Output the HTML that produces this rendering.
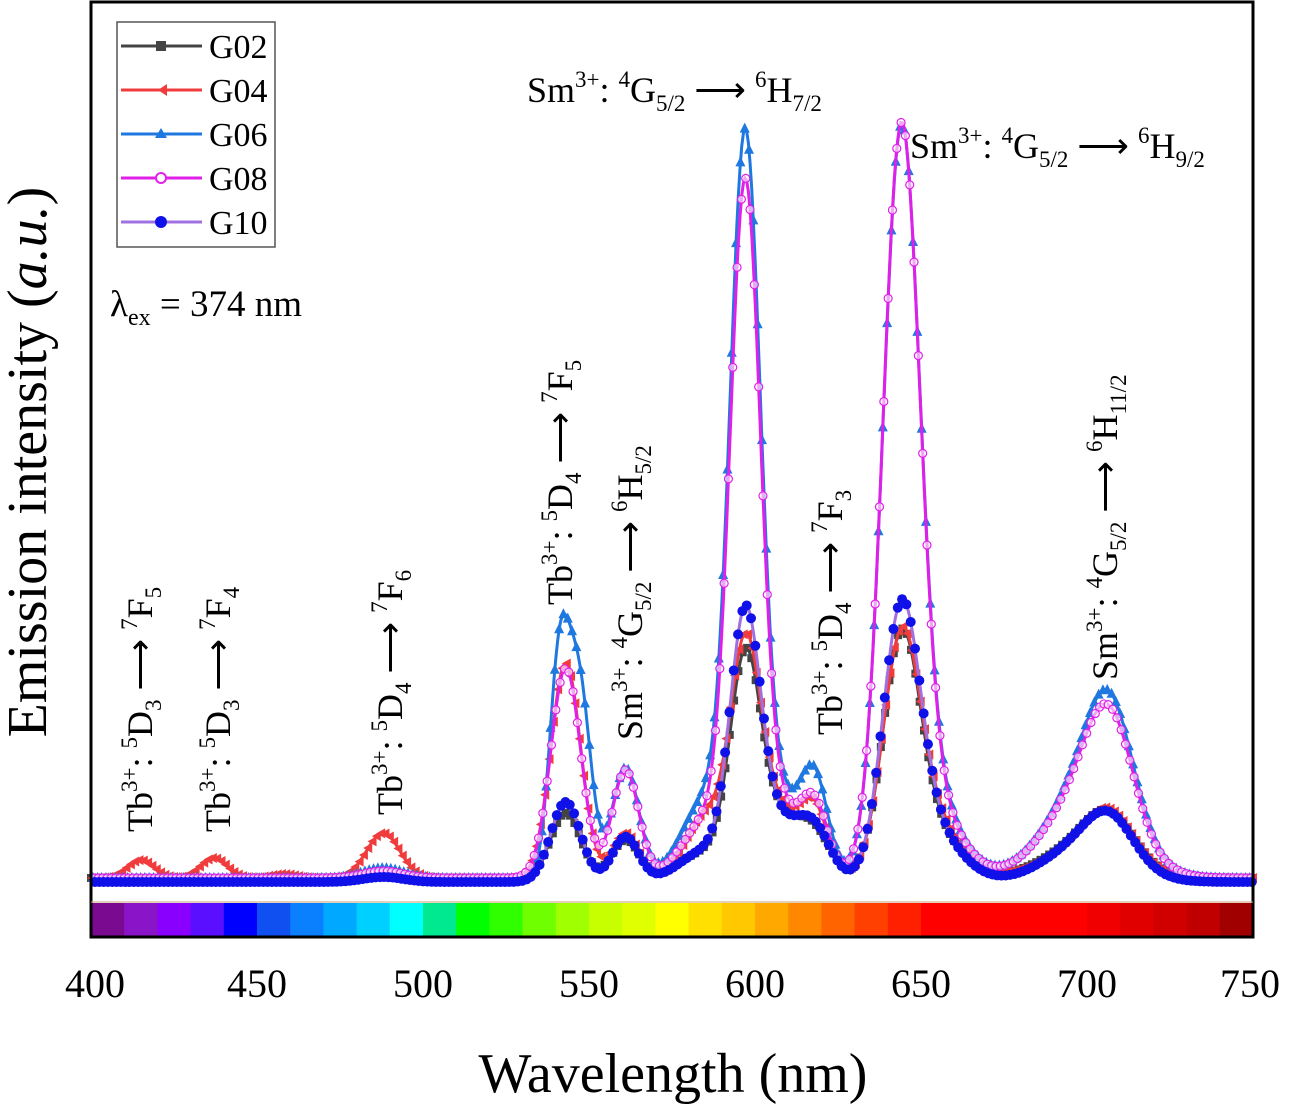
<!DOCTYPE html>
<html><head><meta charset="utf-8"><style>
html,body{margin:0;padding:0;background:#fff}
svg{display:block}
text{font-family:"Liberation Serif",serif;fill:#000}
</style></head><body>
<svg id="s" width="1291" height="1112" viewBox="0 0 1291 1112" xmlns="http://www.w3.org/2000/svg">
<rect x="0" y="0" width="1291" height="1112" fill="#fff"/>
<g id="bar"></g>
<g id="curves"></g>
<rect x="91" y="2" width="1162" height="935" fill="none" stroke="#000" stroke-width="3"/>
<line x1="91" y1="902" x2="1253" y2="902" stroke="#c8a070" stroke-width="1"/>
<rect x="117" y="22" width="158" height="225" fill="#fff" stroke="#555" stroke-width="1.5"/>
<g stroke-width="3">
<line x1="121" y1="46" x2="202" y2="46" stroke="#444"/><rect x="156" y="41" width="10" height="10" fill="#444"/>
<line x1="121" y1="90" x2="202" y2="90" stroke="#f03c3c"/><polygon points="158,90 167,84 167,96" fill="#f03c3c"/>
<line x1="121" y1="134" x2="202" y2="134" stroke="#1e78e0"/><polygon points="161,128 155,138 167,138" fill="#1e78e0"/>
<line x1="121" y1="178" x2="202" y2="178" stroke="#e020e8"/><circle cx="161" cy="178" r="5" fill="#fff" stroke="#e020e8" stroke-width="2"/>
<line x1="121" y1="222" x2="202" y2="222" stroke="#a070e0"/><circle cx="161" cy="222" r="6" fill="#1010e8"/>
</g>
<g font-size="34">
<text x="209" y="58">G02</text><text x="209" y="102">G04</text><text x="209" y="146">G06</text><text x="209" y="190">G08</text><text x="209" y="234">G10</text>
</g>
<text x="110" y="316" font-size="37">λ<tspan font-size="24" dy="9">ex</tspan><tspan dy="-9"> = 374 nm</tspan></text>
<g font-size="36">
<text x="527" y="102">Sm<tspan font-size="23" dy="-15">3+</tspan><tspan dy="15">: </tspan><tspan font-size="23" dy="-15">4</tspan><tspan dy="15">G</tspan><tspan font-size="23" dy="9">5/2</tspan><tspan dy="-9"> ⟶ </tspan><tspan font-size="23" dy="-15">6</tspan><tspan dy="15">H</tspan><tspan font-size="23" dy="9">7/2</tspan></text>
<text x="910" y="158">Sm<tspan font-size="23" dy="-15">3+</tspan><tspan dy="15">: </tspan><tspan font-size="23" dy="-15">4</tspan><tspan dy="15">G</tspan><tspan font-size="23" dy="9">5/2</tspan><tspan dy="-9"> ⟶ </tspan><tspan font-size="23" dy="-15">6</tspan><tspan dy="15">H</tspan><tspan font-size="23" dy="9">9/2</tspan></text>
</g>
<g font-size="36" id="vlab"></g>
<g font-size="40" text-anchor="middle">
<text x="95" y="997">400</text><text x="257" y="997">450</text><text x="423" y="997">500</text><text x="589" y="997">550</text><text x="755" y="997">600</text><text x="921" y="997">650</text><text x="1087" y="997">700</text><text x="1250" y="997">750</text>
</g>
<text x="673" y="1092" font-size="56" text-anchor="middle">Wavelength (nm)</text>
<text transform="translate(46,462) rotate(-90)" font-size="56" text-anchor="middle">Emission intensity (<tspan font-style="italic">a.u.</tspan>)</text>
</svg>
<script>
var NS="http://www.w3.org/2000/svg";
function el(t,a,p){var e=document.createElementNS(NS,t);for(var k in a)e.setAttribute(k,a[k]);p.appendChild(e);return e;}
var cols=["#7a0a90","#8a14c8","#8a00ff","#5a10ff","#0000ff","#1050f0","#0a80ff","#00a8ff","#00d0ff","#00ffff","#00e890","#00ff00","#30ff00","#70ff00","#a0ff00","#c8ff00","#e0ff00","#ffff00","#ffe000","#ffc800","#ffa800","#ff8800","#ff6400","#ff4000","#ff2000","#ff0000","#ff0000","#ff0000","#ff0000","#ff0000","#f00000","#e00000","#d00000","#c00000","#a00000"];
var bar=document.getElementById("bar");
for(var i=0;i<35;i++){el("rect",{x:91+i*33.2,y:903,width:33.8,height:34,fill:cols[i]},bar);}
function X(l){return 91+(l-400)*3.32;}
var S=[
{c:"#444",b:878,m:"sq",p:[[543,4.5,65],[561,4,38],[585,8,25],[597,4.5,190],[606,8,60],[618,5,35],[644,5.5,215],[652,9,50],[700,12,35],[707,7,38],[488,6,5]]},
{c:"#f03c3c",b:878,m:"tri",p:[[415,4,18],[437,4,20],[458,4,4],[488,5,45],[543,4.5,215],[561,4,45],[585,6,60],[597,4.5,200],[606,8,70],[618,4,55],[644,5.5,210],[652,9,60],[700,12,35],[707,7,40]]},
{c:"#1e78e0",b:878,m:"up",p:[[488,6,10],[541,3,205],[547,3.5,190],[561,4,110],[585,7,75],[597,4.5,690],[606,8,80],[618,4,85],[644,5.5,700],[652,9,80],[700,12,90],[707,7,110]]},
{c:"#e020e8",b:878,m:"circ",p:[[488,6,7],[543,4.5,210],[561,4,108],[585,7,55],[597,4.5,650],[606,8,70],[618,4,60],[644,5.5,705],[652,9,75],[700,12,85],[707,7,100]]},
{c:"#1010e8",b:882,m:"dot",lc:"#a070e0",p:[[488,6,5],[543,4.5,80],[561,4,45],[585,8,30],[597,4.5,235],[606,8,60],[618,5,42],[644,5.5,245],[652,9,55],[700,12,38],[707,7,38]]}
];
var g=document.getElementById("curves");
function Y(s,l){var v=s.b;for(var j=0;j<s.p.length;j++){var q=s.p[j];v-=q[2]*Math.exp(-(l-q[0])*(l-q[0])/(2*q[1]*q[1]));}return v;}
S.forEach(function(s,k){
 var d="";for(var l=400;l<=750;l+=0.5){d+=(l==400?"M":"L")+X(l).toFixed(1)+","+Y(s,l).toFixed(1);}
 el("path",{d:d,fill:"none",stroke:s.lc||s.c,"stroke-width":3},g);
 for(var l=400+k*0.3;l<=750;l+=1.3){var x=X(l),y=Y(s,l);
  if(s.m=="sq")el("rect",{x:x-4,y:y-4,width:8,height:8,fill:s.c},g);
  else if(s.m=="tri")el("polygon",{points:(x-5)+","+y+" "+(x+4)+","+(y-5)+" "+(x+4)+","+(y+5),fill:s.c},g);
  else if(s.m=="up")el("polygon",{points:x+","+(y-6)+" "+(x-5)+","+(y+4)+" "+(x+5)+","+(y+4),fill:s.c},g);
  else if(s.m=="circ")el("circle",{cx:x,cy:y,r:4,fill:"#fff","fill-opacity":0.6,stroke:s.c,"stroke-width":1.2},g);
  else el("circle",{cx:x,cy:y,r:5,fill:s.c},g);
 }
});
function lab(a,b,c,d,e,f){return a+'<tspan font-size="23" dy="-15">3+</tspan><tspan dy="15">: </tspan><tspan font-size="23" dy="-15">'+b+'</tspan><tspan dy="15">'+c+'</tspan><tspan font-size="23" dy="9">'+d+'</tspan><tspan dy="-9"> ⟶ </tspan><tspan font-size="23" dy="-15">'+e+'</tspan><tspan dy="15">'+f[0]+'</tspan><tspan font-size="23" dy="9">'+f[1]+'</tspan>';}
var V=[
[152,832,lab("Tb","5","D","3","7",["F","5"])],
[230,832,lab("Tb","5","D","3","7",["F","4"])],
[402,815,lab("Tb","5","D","4","7",["F","6"])],
[572,605,lab("Tb","5","D","4","7",["F","5"])],
[642,740,lab("Sm","4","G","5/2","6",["H","5/2"])],
[842,735,lab("Tb","5","D","4","7",["F","3"])],
[1117,680,lab("Sm","4","G","5/2","6",["H","11/2"])]
];
var vg=document.getElementById("vlab");
V.forEach(function(v){var t=el("text",{transform:"translate("+v[0]+","+v[1]+") rotate(-90)"},vg);t.innerHTML=v[2];});
</script>
</body></html>
